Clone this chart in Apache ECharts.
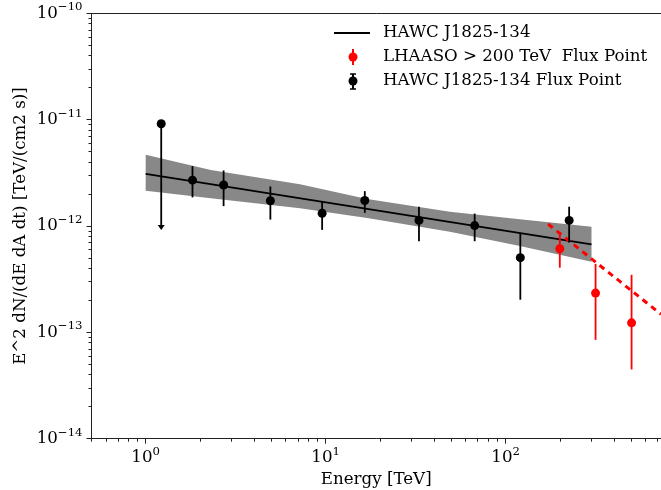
<!DOCTYPE html>
<html><head><meta charset="utf-8">
<script src="https://cdn.jsdelivr.net/npm/echarts@6/dist/echarts.min.js"></script>
<style>html,body{margin:0;padding:0;background:#fff}#c{width:661px;height:490px}</style>
</head><body><div id="c"></div>
<script>
// ---- data ----
const xMajorTicks = [1, 10, 100];
const yMajorTicks = [1e-14, 1e-13, 1e-12, 1e-11, 1e-10];
const xRange = [0.5, 730];
const yRange = [1e-14, 1e-10];

// HAWC flux points (first one is an upper limit)
const hawcE  = [1.22, 1.82, 2.71, 4.93, 9.56, 16.5, 33.0, 67.3, 120.7, 225.4];
const hawcF  = [9.16e-12, 2.70e-12, 2.43e-12, 1.73e-12, 1.32e-12, 1.74e-12, 1.13e-12, 1.01e-12, 5.04e-13, 1.13e-12];
const hawcLo = [9.4e-13, 1.86e-12, 1.54e-12, 1.15e-12, 9.2e-13, 1.33e-12, 7.2e-13, 7.2e-13, 2.03e-13, 7.0e-13];
const hawcHi = [9.16e-12, 3.66e-12, 3.33e-12, 2.36e-12, 1.71e-12, 2.13e-12, 1.52e-12, 1.31e-12, 8.48e-13, 1.52e-12];
const hawcUL = [true, false, false, false, false, false, false, false, false, false];

// LHAASO > 200 TeV flux points
const lhaasoE  = [200, 316, 501];
const lhaasoF  = [6.11e-13, 2.34e-13, 1.23e-13];
const lhaasoLo = [4.06e-13, 8.5e-14, 4.48e-14];
const lhaasoHi = [8.65e-13, 4.41e-13, 3.48e-13];

// HAWC J1825-134 best fit line and its band
const fitE = [1, 300];
const fitF = [3.10e-12, 6.73e-13];
const bandE  = [1, 2.3, 7.2, 17, 49, 120, 300];
const bandUp = [4.69e-12, 3.37e-12, 2.47e-12, 1.80e-12, 1.36e-12, 1.16e-12, 9.84e-13];
const bandLo = [2.15e-12, 1.83e-12, 1.47e-12, 1.19e-12, 8.84e-13, 6.48e-13, 4.61e-13];

// LHAASO dashed spectrum
const lhaasoLineE = [172, 730];
const lhaasoLineF = [1.045e-12, 1.48e-13];

// ---- helpers ----
const FONT = 'DejaVu Serif';
const FS = 16.67;
function minorTicks(lo, hi) {
  const out = [];
  for (let d = Math.floor(Math.log10(lo)); d <= Math.ceil(Math.log10(hi)); d++) {
    for (let m = 2; m <= 9; m++) {
      const v = m * Math.pow(10, d);
      if (v >= lo && v <= hi) out.push(v);
    }
  }
  return out;
}
function powLabel(v) {
  const e = Math.round(Math.log10(v));
  return '{b|10}{s|' + (e < 0 ? '\u2212' : '') + Math.abs(e) + '}';
}
const rich = {
  b: {fontFamily: FONT, fontSize: FS, color: '#000', lineHeight: 24},
  s: {fontFamily: FONT, fontSize: 11.7, color: '#000', lineHeight: 16, verticalAlign: 'top'}
};
const axisLineStyle = {color: '#222', width: 1};

function errItem(color, r) {
  return function (params, api) {
    const x = api.value(0);
    const p = api.coord([x, api.value(1)]);
    const lo = api.coord([x, api.value(2)]);
    const hi = api.coord([x, api.value(3)]);
    const ul = api.value(4);
    const children = [];
    if (ul) {
      children.push({type: 'line', shape: {x1: p[0], y1: p[1], x2: lo[0], y2: lo[1] - 3}, style: {stroke: color, lineWidth: 1.8}});
      children.push({type: 'polygon', shape: {points: [[lo[0] - 3.5, lo[1] - 4], [lo[0] + 3.5, lo[1] - 4], [lo[0], lo[1] + 1]]}, style: {fill: color}});
    } else {
      children.push({type: 'line', shape: {x1: lo[0], y1: lo[1], x2: hi[0], y2: hi[1]}, style: {stroke: color, lineWidth: 1.8}});
    }
    children.push({type: 'circle', shape: {cx: p[0], cy: p[1], r: r}, style: {fill: color}});
    return {type: 'group', children: children};
  };
}

const hawcData = hawcE.map((e, i) => [e, hawcF[i], hawcLo[i], hawcHi[i], hawcUL[i] ? 1 : 0]);
const lhaasoData = lhaasoE.map((e, i) => [e, lhaasoF[i], lhaasoLo[i], lhaasoHi[i], 0]);

const LFONT = FS + 'px "DejaVu Serif"';
const chart = echarts.init(document.getElementById('c'), null, {renderer: 'canvas'});
chart.setOption({
  animation: false,
  backgroundColor: '#fff',
  grid: {left: 91.5, right: 0, top: 13.4, bottom: 51.3, containLabel: false, outerBoundsMode: 'none'},
  xAxis: [
    {
      type: 'log', logBase: 10, min: xRange[0], max: xRange[1], position: 'bottom',
      name: 'Energy [TeV]', nameLocation: 'middle', nameGap: 30,
      nameTextStyle: {fontFamily: FONT, fontSize: FS, color: '#000'},
      axisLine: {show: true, lineStyle: axisLineStyle},
      axisTick: {show: true, customValues: xMajorTicks, length: 5, lineStyle: axisLineStyle},
      axisLabel: {show: true, customValues: xMajorTicks, formatter: powLabel, rich: rich, margin: 7},
      splitLine: {show: false}
    },
    {
      type: 'log', logBase: 10, min: xRange[0], max: xRange[1], position: 'bottom',
      axisLine: {show: false},
      axisTick: {show: true, customValues: minorTicks(xRange[0], xRange[1]), length: 3, lineStyle: axisLineStyle},
      axisLabel: {show: false}, splitLine: {show: false}
    },
    {
      type: 'log', logBase: 10, min: xRange[0], max: xRange[1], position: 'top',
      axisLine: {show: true, lineStyle: axisLineStyle},
      axisTick: {show: false}, axisLabel: {show: false}, splitLine: {show: false}
    }
  ],
  yAxis: [
    {
      type: 'log', logBase: 10, min: yRange[0], max: yRange[1], position: 'left',
      name: 'E^2 dN/(dE dA dt) [TeV/(cm2 s)]', nameLocation: 'middle', nameGap: 62, nameRotate: 90,
      nameMoveOverlap: false,
      nameTextStyle: {fontFamily: FONT, fontSize: FS, color: '#000'},
      axisLine: {show: true, lineStyle: axisLineStyle},
      axisTick: {show: true, customValues: yMajorTicks, length: 5, lineStyle: axisLineStyle},
      axisLabel: {show: true, customValues: yMajorTicks, formatter: powLabel, rich: rich, margin: 9},
      splitLine: {show: false}
    },
    {
      type: 'log', logBase: 10, min: yRange[0], max: yRange[1], position: 'left',
      axisLine: {show: false},
      axisTick: {show: true, customValues: minorTicks(yRange[0], yRange[1]), length: 3, lineStyle: axisLineStyle},
      axisLabel: {show: false}, splitLine: {show: false}
    }
  ],
  series: [
    {
      name: 'band', type: 'custom', xAxisIndex: 0, yAxisIndex: 0, silent: true, z: 1,
      data: [[bandE[0], bandUp[0]]],
      renderItem: function (params, api) {
        const pts = [];
        for (let i = 0; i < bandE.length; i++) pts.push(api.coord([bandE[i], bandUp[i]]));
        for (let i = bandE.length - 1; i >= 0; i--) pts.push(api.coord([bandE[i], bandLo[i]]));
        return {type: 'polygon', shape: {points: pts}, style: {fill: '#888888'}};
      }
    },
    {
      name: 'HAWC J1825-134', type: 'line', xAxisIndex: 0, yAxisIndex: 0, z: 3,
      data: fitE.map((e, i) => [e, fitF[i]]), showSymbol: false,
      lineStyle: {color: '#000', width: 1.8}
    },
    {
      name: 'LHAASO line', type: 'line', xAxisIndex: 0, yAxisIndex: 0, z: 4,
      data: lhaasoLineE.map((e, i) => [e, lhaasoLineF[i]]), showSymbol: false,
      lineStyle: {color: '#ff0000', width: 3, type: [6, 5]}
    },
    {
      name: 'HAWC J1825-134 Flux Point', type: 'custom', xAxisIndex: 0, yAxisIndex: 0, z: 5,
      data: hawcData, encode: {x: 0, y: 1}, renderItem: errItem('#000', 4.5)
    },
    {
      name: 'LHAASO > 200 TeV  Flux Point', type: 'custom', xAxisIndex: 0, yAxisIndex: 0, z: 6,
      data: lhaasoData, encode: {x: 0, y: 1}, renderItem: errItem('#ff0000', 4.5)
    }
  ],
  graphic: [
    {type: 'line', shape: {x1: 334, y1: 33, x2: 370, y2: 33}, style: {stroke: '#000', lineWidth: 1.8}},
    {type: 'text', x: 383, y: 33, style: {text: 'HAWC J1825-134', font: LFONT, fill: '#000', verticalAlign: 'middle'}},
    {type: 'line', shape: {x1: 353, y1: 49, x2: 353, y2: 65}, style: {stroke: '#ff0000', lineWidth: 2}},
    {type: 'circle', shape: {cx: 353, cy: 57, r: 4.5}, style: {fill: '#ff0000'}},
    {type: 'text', x: 383, y: 57, style: {text: 'LHAASO > 200 TeV  Flux Point', font: LFONT, fill: '#000', verticalAlign: 'middle'}},
    {type: 'line', shape: {x1: 353, y1: 74, x2: 353, y2: 89}, style: {stroke: '#000', lineWidth: 2}},
    {type: 'line', shape: {x1: 350, y1: 74, x2: 356, y2: 74}, style: {stroke: '#000', lineWidth: 1.5}},
    {type: 'line', shape: {x1: 350, y1: 89, x2: 356, y2: 89}, style: {stroke: '#000', lineWidth: 1.5}},
    {type: 'circle', shape: {cx: 353, cy: 81, r: 4.5}, style: {fill: '#000'}},
    {type: 'text', x: 383, y: 81, style: {text: 'HAWC J1825-134 Flux Point', font: LFONT, fill: '#000', verticalAlign: 'middle'}}
  ]
});
</script>
</body></html>
